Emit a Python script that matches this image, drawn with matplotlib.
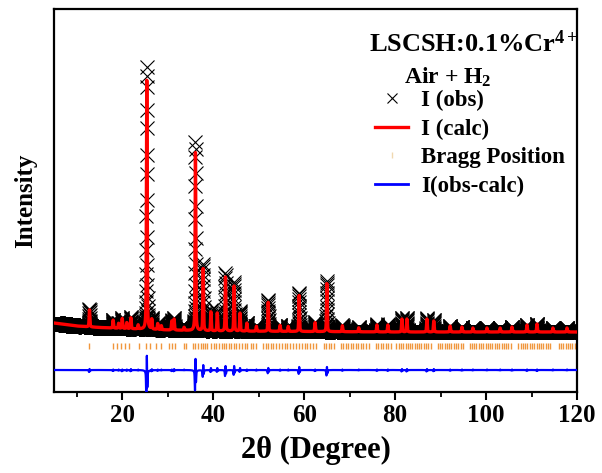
import numpy as np
import matplotlib
matplotlib.use("Agg")
import matplotlib.pyplot as plt
from matplotlib.lines import Line2D
from matplotlib.ticker import MultipleLocator

plt.rcParams['font.family'] = ['Liberation Serif', 'DejaVu Serif']
plt.rcParams['mathtext.fontset'] = 'custom'
plt.rcParams['mathtext.rm'] = 'Liberation Serif:bold'
plt.rcParams['mathtext.bf'] = 'Liberation Serif:bold'
plt.rcParams['mathtext.it'] = 'Liberation Serif:bold'

# ---------------- data ----------------
# background anchor points (2theta, intensity, arb. units)
bg_tt = [5, 10, 15, 20, 30, 40, 60, 80, 100, 120]
bg_int = [6900, 6600, 6450, 6350, 6200, 6100, 6050, 6000, 6000, 6000]

# reflections: position, calculated height, observed height
peak_tt = [12.8, 18.0, 19.2, 20.0, 21.0, 21.9, 23.5, 25.4, 26.5, 27.8, 28.6,
           30.9, 31.4, 33.6, 36.1, 37.8, 39.5, 40.9, 42.7, 44.6, 45.9, 47.4,
           49.5, 52.1, 54.7, 56.5, 58.9, 62.4, 65.0, 68.4, 72.0, 76.0, 78.4,
           81.5, 82.6, 87.0, 88.5, 92.1, 94.7, 97.1, 100.2, 103.1, 105.7,
           109.0, 111.2, 114.7, 117.8]
calc_h = [1700, 800, 500, 1000, 600, 1100, 400, 24900, 1000, 600, 400,
          900, 1100, 300, 17800, 6200, 1900, 1800, 5400, 4500, 1800, 800,
          500, 2900, 600, 500, 3600, 900, 4800, 600, 400, 700, 700,
          1300, 1300, 1300, 1100, 600, 500, 400, 400, 400, 500,
          700, 800, 400, 400]
obs_h = [1800, 850, 550, 1050, 650, 1200, 450, 26300, 1100, 650, 450,
         950, 1200, 350, 18900, 6700, 2100, 2000, 5800, 4900, 2000, 850,
         550, 3100, 650, 550, 3900, 950, 5100, 650, 450, 750, 750,
         1400, 1400, 1400, 1200, 650, 550, 450, 450, 450, 550,
         750, 850, 450, 450]

bragg_tt = [12.8, 17.9, 18.8, 19.7, 20.6, 21.5, 23.7, 25.3, 26.1, 27.4, 28.5,
            30.3, 31.0, 31.5, 33.5, 34.0, 35.5, 36.1, 36.6, 37.3, 37.8, 38.3,
            38.7, 39.6, 40.1, 40.6, 41.3, 41.9, 42.4, 42.8, 43.4, 44.0, 44.6,
            45.0, 45.6, 46.3, 47.0, 47.5, 48.3, 48.8, 49.4, 51.0, 51.6, 52.1,
            52.7, 53.2, 53.9, 54.5, 55.1, 55.8, 56.3, 57.0, 57.6, 58.2, 58.8,
            59.5, 60.1, 60.6, 61.3, 61.9, 62.5, 64.3, 64.9, 65.4, 66.0, 66.6,
            68.1, 68.6, 69.2, 69.7, 70.3, 70.8, 71.4, 71.9, 72.5, 73.0, 73.6,
            74.2, 75.8, 76.3, 76.9, 77.4, 78.0, 78.5, 79.0, 80.3, 80.8, 81.3,
            81.8, 82.3, 82.8, 83.3, 83.8, 84.3, 84.8, 85.3, 85.8, 86.3, 86.8,
            87.3, 87.8, 89.4, 89.9, 90.4, 90.9, 91.4, 91.9, 92.4, 92.9, 93.4,
            93.9, 94.4, 94.9, 96.4, 96.9, 97.4, 97.9, 98.4, 98.9, 99.4, 99.9,
            100.4, 100.9, 101.4, 101.9, 102.4, 102.9, 103.4, 103.9, 104.4,
            104.9, 105.4, 107.1, 107.6, 108.1, 108.6, 109.1, 109.6, 110.1,
            110.6, 111.1, 111.6, 112.1, 112.6, 113.1, 113.6, 114.1, 116.0,
            116.5, 117.0, 117.5, 118.0, 118.5, 119.0, 119.5]

x_ticks = [20, 40, 60, 80, 100, 120]
step = 0.02          # scan step (deg)
fwhm_calc = 0.18     # calculated peak width (deg)
fwhm_obs = 0.15      # observed peak width (deg)
eta = 0.5            # pseudo-Voigt mixing
obs_shift = 0.004    # small peak offset of the observed pattern
bragg_level = 4650
diff_offset = 2200

# ---------------- profiles ----------------
tt = np.arange(5.0, 120.0 + step / 2, step)
bg = np.interp(tt, bg_tt, bg_int)


def pattern(centers, heights, fwhm, shift=0.0):
    y = np.zeros_like(tt)
    g = fwhm / 2.0
    sig = fwhm / 2.3548
    for c, h in zip(centers, heights):
        d = tt - (c + shift)
        lor = 1.0 / (1.0 + (d / g) ** 2)
        gau = np.exp(-0.5 * (d / sig) ** 2)
        y += h * (eta * lor + (1 - eta) * gau)
    return y


calc = bg + pattern(peak_tt, calc_h, fwhm_calc)
obs = bg + pattern(peak_tt, obs_h, fwhm_obs, obs_shift)
diff = obs - calc + diff_offset

# ---------------- figure ----------------
W, H = 602, 473
fig = plt.figure(figsize=(W / 100, H / 100), dpi=100)
ax = fig.add_axes([54 / W, 1 - 392 / H, (577 - 54) / W, (392 - 9) / H])

ax.plot(tt, obs, ls='none', marker='x', ms=9.5, mew=0.8, color='black', zorder=2)
ax.plot(tt, calc, color='#FF0000', lw=2.4, zorder=3)
ax.plot(bragg_tt, [bragg_level] * len(bragg_tt), ls='none', marker='|',
        ms=4.5, mew=1.0, color='#F0963C', zorder=2)
ax.plot(tt, diff, color='#0000FF', lw=1.6, zorder=3)

ax.set_xlim(5, 120)
ax.set_ylim(0, 38300)
ax.set_xticks(x_ticks)
ax.set_xticklabels([str(v) for v in x_ticks])
ax.xaxis.set_minor_locator(MultipleLocator(10))
ax.set_yticks([])
ax.tick_params(axis='x', which='major', direction='out', length=6, width=1.5,
               labelsize=18, pad=3)
ax.tick_params(axis='x', which='minor', direction='out', length=3.5, width=1.3)
for lab in ax.get_xticklabels():
    lab.set_fontweight('bold')
for s in ax.spines.values():
    s.set_linewidth(1.6)

ax.set_xlabel('2θ (Degree)', fontsize=22, fontweight='bold', labelpad=6)
ax.set_ylabel('Intensity', fontsize=18, fontweight='bold', labelpad=12)

fig.text(579 / W, 1 - 44 / H, r'LSCSH:0.1%Cr$^{4+}$', ha='right', va='center',
         fontsize=19, fontweight='bold')
fig.text(448 / W, 1 - 77 / H, r'Air + H$_{2}$', ha='center', va='center',
         fontsize=17, fontweight='bold')

handles = [
    Line2D([], [], ls='none', marker='x', ms=7.5, mew=0.8, color='black'),
    Line2D([], [], color='#FF0000', lw=2.4),
    Line2D([], [], ls='none', marker='|', ms=4, mew=1.0, color='#F0D8B0'),
    Line2D([], [], color='#0000FF', lw=2.0),
]
labels = ['I (obs)', 'I (calc)', 'Bragg Position', 'I(obs-calc)']
leg = fig.legend(handles, labels, loc='upper left',
                 bbox_to_anchor=(375 / W, 1 - 90 / H), frameon=False,
                 borderpad=0, borderaxespad=0, handlelength=1.45,
                 handletextpad=0.55, labelspacing=0.33,
                 prop={'size': 16.5, 'weight': 'bold'})

fig.savefig('out.png', dpi=100)
